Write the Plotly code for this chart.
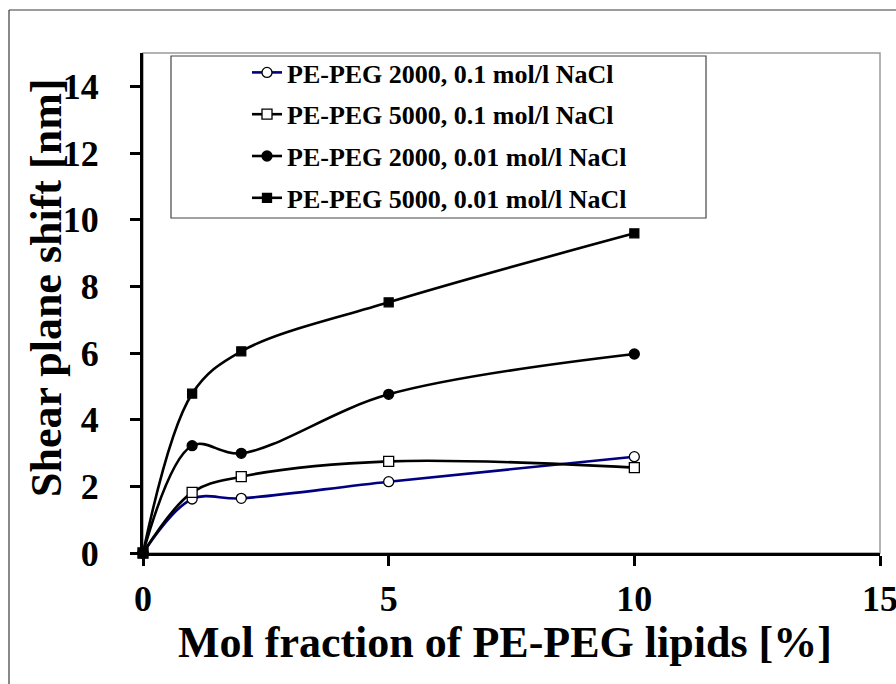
import plotly.graph_objects as go

# Mol fraction of PE-PEG lipids [%]
mol_fraction = [0, 1, 2, 5, 10]

# Shear plane shift [nm] for each lipid / salt combination
peg2000_01 = [0.0, 1.62, 1.64, 2.14, 2.89]
peg5000_01 = [0.0, 1.82, 2.29, 2.75, 2.56]
peg2000_001 = [0.0, 3.22, 2.99, 4.76, 5.97]
peg5000_001 = [0.0, 4.78, 6.05, 7.52, 9.59]

series_names = [
    "PE-PEG 2000, 0.1 mol/l NaCl",
    "PE-PEG 5000, 0.1 mol/l NaCl",
    "PE-PEG 2000, 0.01 mol/l NaCl",
    "PE-PEG 5000, 0.01 mol/l NaCl",
]

x_ticks = [0, 5, 10, 15]
y_ticks = [0, 2, 4, 6, 8, 10, 12, 14]

FONT = "Liberation Serif, Times New Roman, serif"
W, H = 896, 684
ML, MR, MT, MB = 143, 16, 53, 131
PW, PH = W - ML - MR, H - MT - MB


def px(x):
    return (x - ML) / PW


def py(y):
    return (H - MB - y) / PH


styles = [
    dict(line_color="#000080", symbol="circle", fill="white", size=10),
    dict(line_color="black", symbol="square", fill="white", size=10),
    dict(line_color="black", symbol="circle", fill="black", size=10),
    dict(line_color="black", symbol="square", fill="black", size=9),
]

fig = go.Figure()
for i, (name, ys, st) in enumerate(zip(series_names,
                                       [peg2000_01, peg5000_01, peg2000_001, peg5000_001],
                                       styles)):
    fig.add_trace(go.Scatter(
        x=mol_fraction, y=ys, name=name, mode="lines+markers",
        line=dict(color=st["line_color"], width=2.6, shape="spline", smoothing=1.0),
        marker=dict(symbol=st["symbol"], size=st["size"], color=st["fill"],
                    line=dict(color="black", width=1.3)),
        cliponaxis=False, legendgroup=f"g{i}",
    ))

axis_common = dict(
    showgrid=False, zeroline=False, showline=True, linecolor="black", linewidth=3,
    ticks="outside", ticklen=10, tickwidth=3, tickcolor="black",
    ticklabeloverflow="allow", automargin=False,
    tickfont=dict(family=FONT, size=36, color="black", weight="bold"),
)

fig.update_xaxes(range=[0, 15], tickvals=x_ticks, ticklabelstandoff=2, **axis_common)
fig.update_yaxes(range=[0, 15], tickvals=y_ticks, ticklabelstandoff=24, **axis_common)

fig.update_layout(
    width=W, height=H,
    margin=dict(l=ML, r=MR, t=MT, b=MB, pad=0, autoexpand=False),
    paper_bgcolor="white", plot_bgcolor="white",
    showlegend=True,
    legend=dict(
        x=px(247), y=py(49), xanchor="left", yanchor="top",
        bgcolor="rgba(0,0,0,0)", borderwidth=0,
        font=dict(family=FONT, size=26, color="black", weight="bold"),
        tracegroupgap=5, traceorder="grouped",
    ),
    shapes=[
        # outer frame
        dict(type="line", xref="paper", yref="paper", x0=px(9), x1=px(W + 20),
             y0=py(10), y1=py(10), line=dict(color="#3a3a3a", width=1.2)),
        dict(type="line", xref="paper", yref="paper", x0=px(9), x1=px(9),
             y0=py(H + 20), y1=py(10), line=dict(color="#3a3a3a", width=1.2)),
        # plot area border
        dict(type="rect", xref="paper", yref="paper", x0=0, x1=1, y0=0, y1=1,
             line=dict(color="#9a9a9a", width=1.5), layer="below"),
        # legend box
        dict(type="rect", xref="paper", yref="paper", x0=px(171), x1=px(706),
             y0=py(218), y1=py(56), line=dict(color="#444444", width=1.2),
             fillcolor="white", layer="below"),
    ],
    annotations=[
        dict(text="Mol fraction of PE-PEG lipids [%]", xref="paper", yref="paper",
             x=px(505), y=py(642), xanchor="center", yanchor="middle", showarrow=False,
             font=dict(family=FONT, size=44, color="black", weight="bold")),
        dict(text="Shear plane shift [nm]", xref="paper", yref="paper",
             x=px(46), y=py(288), xanchor="center", yanchor="middle", showarrow=False,
             textangle=-90,
             font=dict(family=FONT, size=44, color="black", weight="bold")),
    ],
)

fig.write_html("out.html")
